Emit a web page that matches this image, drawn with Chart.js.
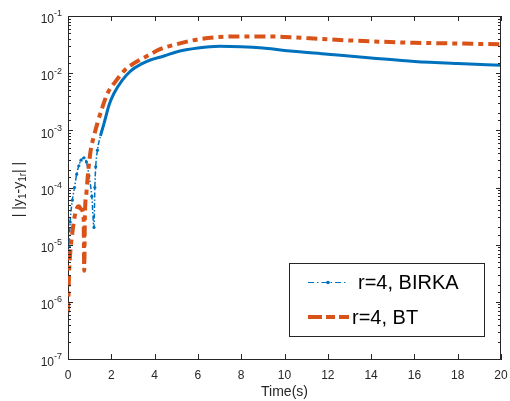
<!DOCTYPE html>
<html>
<head>
<meta charset="utf-8">
<script src="https://cdn.jsdelivr.net/npm/chart.js@4/dist/chart.umd.min.js"></script>
<style>
  html, body { margin: 0; padding: 0; background: #fff; }
  #wrap { width: 510px; height: 401px; }
</style>
</head>
<body>
<div id="wrap"><canvas id="errChart" width="510" height="401"></canvas></div>
<script>
// values
const birkaTime = [0, 0.05, 0.1, 0.2, 0.3, 0.4, 0.5, 0.6, 0.74, 0.85, 0.97, 1.1, 1.2, 1.24, 1.28, 1.36, 1.5, 1.66, 1.9, 2.12, 2.5, 2.9, 3.4, 3.8, 4.43, 5, 6, 7, 8, 9, 10, 12, 14, 16, 18, 20];
const birkaErr = [7e-6, 9.4e-6, 2.5e-5, 6e-5, 1e-4, 1.7e-4, 2.4e-4, 3e-4, 3.3e-4, 2.8e-4, 1.6e-4, 7e-5, 2e-5, 1e-4, 2.3e-4, 4.5e-4, 8e-4, 1.3e-3, 2.8e-3, 4.4e-3, 7.5e-3, 1.1e-2, 1.45e-2, 1.7e-2, 2.0e-2, 2.35e-2, 2.75e-2, 2.95e-2, 2.9e-2, 2.75e-2, 2.5e-2, 2.15e-2, 1.85e-2, 1.6e-2, 1.47e-2, 1.38e-2];

const btTime = [0, 0.05, 0.1, 0.2, 0.3, 0.43, 0.5, 0.6, 0.72, 0.75, 0.78, 0.85, 0.95, 1.05, 1.2, 1.35, 1.6, 1.82, 2.2, 2.59, 3, 3.5, 4.28, 5, 6, 7, 8, 9, 10, 12, 14, 16, 18, 20];
const btErr = [6.5e-7, 3.2e-6, 7e-6, 1.6e-5, 3e-5, 4.5e-5, 4.7e-5, 4.2e-5, 3e-5, 3.5e-6, 3e-5, 8e-5, 2.2e-4, 4.5e-4, 8e-4, 1.3e-3, 2.6e-3, 4.4e-3, 7.2e-3, 1.1e-2, 1.45e-2, 1.85e-2, 2.65e-2, 3.2e-2, 3.9e-2, 4.3e-2, 4.4e-2, 4.4e-2, 4.3e-2, 3.9e-2, 3.6e-2, 3.4e-2, 3.3e-2, 3.2e-2];

const xTicks = [0, 2, 4, 6, 8, 10, 12, 14, 16, 18, 20];
const seriesNames = ["r=4, BIRKA", "r=4, BT"];

const BLUE = "#0072BD";
const ORANGE = "#D95319";
const AXIS = "#262626";
const FONT = "'Liberation Sans', Arial, sans-serif";

function isDecade(v) {
  const l = Math.log10(v);
  return Math.abs(l - Math.round(l)) < 1e-6;
}

// matlab style box, inward ticks, 10^n labels, y label and legend
const matlabAxes = {
  id: "matlabAxes",
  afterDraw(chart) {
    const ctx = chart.ctx;
    const { left, right, top, bottom } = chart.chartArea;
    const xs = chart.scales.x;
    const ys = chart.scales.y;
    ctx.save();
    ctx.strokeStyle = AXIS;
    ctx.lineWidth = 1;
    ctx.beginPath();
    ctx.moveTo(left, top + 0.5);
    ctx.lineTo(right, top + 0.5);
    ctx.moveTo(right - 0.5, top);
    ctx.lineTo(right - 0.5, bottom);
    xTicks.forEach((t) => {
      const px = Math.round(xs.getPixelForValue(t)) + 0.5;
      ctx.moveTo(px, bottom);
      ctx.lineTo(px, bottom - 5);
      ctx.moveTo(px, top);
      ctx.lineTo(px, top + 5);
    });
    ys.ticks.forEach((tk) => {
      const py = Math.round(ys.getPixelForValue(tk.value)) + 0.5;
      const len = isDecade(tk.value) ? 5 : 3;
      ctx.moveTo(left, py);
      ctx.lineTo(left + len, py);
      ctx.moveTo(right, py);
      ctx.lineTo(right - len, py);
    });
    ctx.stroke();

    // y tick labels 10^n
    ctx.fillStyle = AXIS;
    ys.ticks.forEach((tk) => {
      if (!isDecade(tk.value)) return;
      const py = ys.getPixelForValue(tk.value);
      const ex = String(Math.round(Math.log10(tk.value)));
      ctx.font = "9px " + FONT;
      const ew = ctx.measureText(ex).width;
      ctx.textAlign = "left";
      ctx.textBaseline = "middle";
      ctx.fillText(ex, 62 - ew, py - 2);
      ctx.font = "12px " + FONT;
      ctx.textAlign = "right";
      ctx.fillText("10", 62 - ew, py + 4);
    });

    // y axis label with subscripts
    const parts = [["| |y", 14, 0], ["1", 10, 4], ["-y", 14, 0], ["1r", 10, 4], ["| |", 14, 0]];
    let total = 0;
    parts.forEach((p) => {
      ctx.font = p[1] + "px " + FONT;
      total += ctx.measureText(p[0]).width;
    });
    ctx.translate(19, (top + bottom) / 2 + 2);
    ctx.rotate(-Math.PI / 2);
    ctx.textAlign = "left";
    ctx.textBaseline = "middle";
    let cx = -total / 2;
    parts.forEach((p) => {
      ctx.font = p[1] + "px " + FONT;
      ctx.fillText(p[0], cx, p[2]);
      cx += ctx.measureText(p[0]).width;
    });
    ctx.restore();

    // legend box
    ctx.save();
    ctx.fillStyle = "#fff";
    ctx.strokeStyle = AXIS;
    ctx.lineWidth = 1;
    ctx.fillRect(289, 263, 195, 73);
    ctx.strokeRect(289.5, 263.5, 195, 73);
    ctx.strokeStyle = BLUE;
    ctx.lineWidth = 1;
    ctx.setLineDash([6, 3, 1.5, 3]);
    ctx.beginPath();
    ctx.moveTo(308, 282.5);
    ctx.lineTo(348, 282.5);
    ctx.stroke();
    ctx.setLineDash([]);
    ctx.fillStyle = BLUE;
    ctx.beginPath();
    ctx.arc(328, 282.5, 1.8, 0, Math.PI * 2);
    ctx.fill();
    ctx.strokeStyle = ORANGE;
    ctx.lineWidth = 4;
    ctx.setLineDash([14, 4, 9, 4]);
    ctx.beginPath();
    ctx.moveTo(308, 317);
    ctx.lineTo(349, 317);
    ctx.stroke();
    ctx.setLineDash([]);
    ctx.fillStyle = "#000";
    ctx.font = "20px " + FONT;
    ctx.textAlign = "left";
    ctx.textBaseline = "middle";
    ctx.fillText(seriesNames[0], 358, 283);
    ctx.fillText(seriesNames[1], 352, 318);
    ctx.restore();
  }
};

const early = (c) => c.p0.parsed.x < 1.4;

new Chart(document.getElementById("errChart"), {
  type: "line",
  data: {
    datasets: [
      {
        label: seriesNames[0],
        data: birkaTime.map((t, i) => ({ x: t, y: birkaErr[i] })),
        borderColor: BLUE,
        backgroundColor: BLUE,
        borderWidth: 3,
        pointRadius: (c) => (c.raw && c.raw.x < 1.4 ? 1.6 : 0),
        pointBorderWidth: 0,
        cubicInterpolationMode: "monotone",
        order: 1,
        segment: {
          borderDash: (c) => (early(c) ? [5, 2, 1.5, 2] : undefined),
          borderWidth: (c) => (early(c) ? 1.5 : undefined)
        }
      },
      {
        label: seriesNames[1],
        data: btTime.map((t, i) => ({ x: t, y: btErr[i] })),
        borderColor: ORANGE,
        backgroundColor: ORANGE,
        borderWidth: 4,
        borderDash: [11, 5, 5, 5],
        pointRadius: 0,
        cubicInterpolationMode: "monotone",
        order: 0
      }
    ]
  },
  options: {
    responsive: false,
    animation: false,
    layout: { padding: { left: 0, right: 9, top: 16, bottom: 0 } },
    plugins: {
      legend: { display: false },
      tooltip: { enabled: false }
    },
    scales: {
      x: {
        type: "linear",
        min: 0,
        max: 20,
        afterBuildTicks: (s) => { s.ticks = xTicks.map((v) => ({ value: v })); },
        afterFit: (s) => { s.height = 42; s.paddingLeft = 0; s.paddingRight = 0; },
        grid: { display: false, drawTicks: false },
        border: { display: true, color: AXIS, width: 1 },
        ticks: { color: AXIS, font: { family: FONT, size: 12 }, padding: 9, maxRotation: 0 },
        title: { display: true, text: "Time(s)", color: AXIS, font: { family: FONT, size: 14 }, padding: 0 }
      },
      y: {
        type: "logarithmic",
        min: 1e-7,
        max: 1e-1,
        afterFit: (s) => { s.width = 68; s.paddingTop = 0; s.paddingBottom = 0; },
        grid: { display: false, drawTicks: false },
        border: { display: true, color: AXIS, width: 1 },
        ticks: { display: false, autoSkip: false }
      }
    }
  },
  plugins: [matlabAxes]
});
</script>
</body>
</html>
